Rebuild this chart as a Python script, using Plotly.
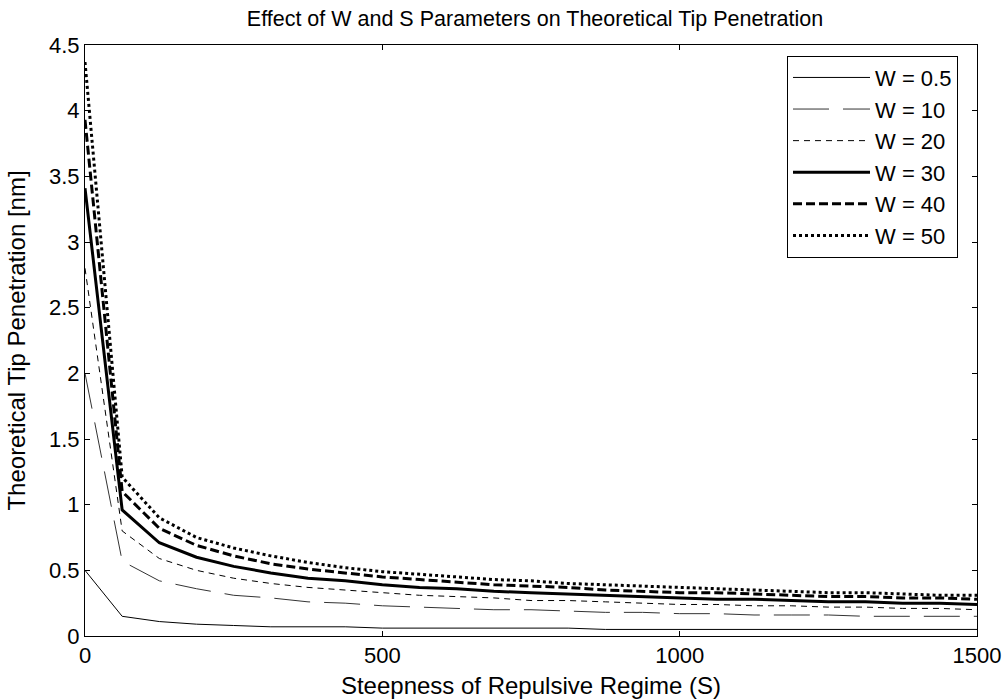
import plotly.graph_objects as go

S = [0, 62.5, 125, 187.5, 250, 312.5, 375, 437.5, 500, 562.5, 625, 687.5, 750,
     812.5, 875, 937.5, 1000, 1062.5, 1125, 1187.5, 1250, 1312.5, 1375, 1437.5, 1500]

W_labels = ["W = 0.5", "W = 10", "W = 20", "W = 30", "W = 40", "W = 50"]

w05 = [0.50, 0.15, 0.11, 0.09, 0.08, 0.07, 0.07, 0.07, 0.06, 0.06, 0.06, 0.06, 0.06,
       0.06, 0.05, 0.05, 0.05, 0.05, 0.05, 0.05, 0.05, 0.05, 0.05, 0.05, 0.05]
w10 = [2.00, 0.57, 0.42, 0.36, 0.31, 0.29, 0.26, 0.25, 0.23, 0.22, 0.21, 0.20, 0.20,
       0.19, 0.18, 0.18, 0.17, 0.17, 0.16, 0.16, 0.16, 0.15, 0.15, 0.15, 0.15]
w20 = [2.80, 0.80, 0.59, 0.50, 0.44, 0.40, 0.37, 0.35, 0.33, 0.31, 0.30, 0.29, 0.27,
       0.27, 0.26, 0.25, 0.24, 0.24, 0.23, 0.23, 0.22, 0.22, 0.21, 0.21, 0.20]
w30 = [3.41, 0.96, 0.71, 0.60, 0.53, 0.48, 0.44, 0.42, 0.39, 0.37, 0.36, 0.34, 0.33,
       0.32, 0.31, 0.30, 0.29, 0.28, 0.28, 0.27, 0.26, 0.26, 0.25, 0.25, 0.24]
w40 = [3.93, 1.10, 0.82, 0.69, 0.61, 0.55, 0.51, 0.48, 0.45, 0.43, 0.41, 0.39, 0.38,
       0.37, 0.35, 0.34, 0.33, 0.33, 0.32, 0.31, 0.30, 0.30, 0.29, 0.29, 0.28]
w50 = [4.37, 1.21, 0.90, 0.75, 0.67, 0.61, 0.56, 0.52, 0.49, 0.47, 0.45, 0.43, 0.42,
       0.40, 0.39, 0.38, 0.37, 0.36, 0.35, 0.34, 0.33, 0.33, 0.32, 0.31, 0.31]

series = [w05, w10, w20, w30, w40, w50]
styles = [
    dict(color="#000000", width=1, dash="solid"),
    dict(color="#333333", width=1, dash="36px,14px"),
    dict(color="#000000", width=1, dash="6px,5px"),
    dict(color="#000000", width=3, dash="solid"),
    dict(color="#000000", width=3, dash="9px,4px"),
    dict(color="#000000", width=3, dash="3px,3px"),
]

FONT = "Arial, 'Liberation Sans', sans-serif"
FS = 22
FS_TITLE = 21.5
FS_AX = 24

fig = go.Figure()
for name, ys, st in zip(W_labels, series, styles):
    fig.add_trace(go.Scatter(x=S, y=ys, mode="lines", name=name, line=st))

fig.update_layout(
    width=1004, height=700,
    margin=dict(l=85, r=27, t=45, b=64, autoexpand=False),
    paper_bgcolor="white", plot_bgcolor="white",
    font=dict(family=FONT, size=FS, color="black"),
    title=dict(text="Effect of W and S Parameters on Theoretical Tip Penetration",
               x=(85 + 977) / 2 / 1004 + 0.004, xanchor="center", y=1 - 18 / 700, yanchor="middle",
               font=dict(size=FS_TITLE, family=FONT)),
    legend=dict(x=0.787, y=0.982, xanchor="left", yanchor="top",
                bordercolor="black", borderwidth=1, bgcolor="white",
                font=dict(size=FS, family=FONT), tracegroupgap=0,
                itemwidth=77),
    showlegend=True,
)
fig.update_xaxes(range=[0, 1500], tickvals=[0, 500, 1000, 1500],
                 ticks="inside", ticklen=5, tickcolor="black",
                 showline=True, linecolor="black", linewidth=1, mirror="ticks",
                 showgrid=False, zeroline=False, automargin=False,
                 title=dict(text="Steepness of Repulsive Regime (S)", font=dict(size=FS_AX), standoff=9),
                 tickfont=dict(size=FS))
fig.update_yaxes(range=[0, 4.5], tickvals=[0, 0.5, 1, 1.5, 2, 2.5, 3, 3.5, 4, 4.5],
                 ticktext=["0", "0.5", "1", "1.5", "2", "2.5", "3", "3.5", "4", "4.5"],
                 ticks="inside", ticklen=5, tickcolor="black",
                 showline=True, linecolor="black", linewidth=1, mirror="ticks",
                 showgrid=False, zeroline=False, automargin=False,
                 title=dict(text="Theoretical Tip Penetration [nm]", font=dict(size=FS_AX), standoff=16),
                 tickfont=dict(size=FS))

fig.write_html("out.html")
